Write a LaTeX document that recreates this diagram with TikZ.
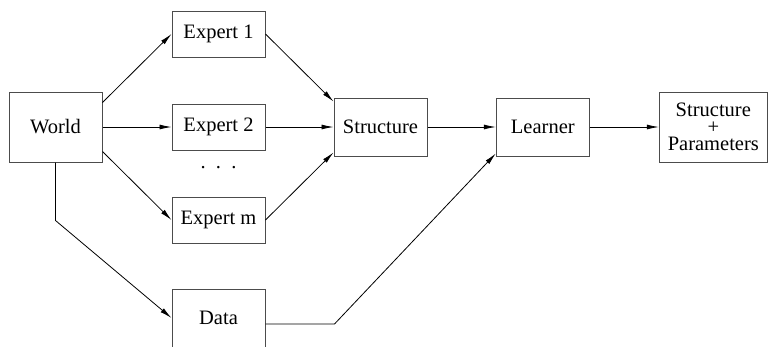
\documentclass[tikz,border=0pt]{standalone}
\usepackage{fontspec}
\setmainfont{Liberation Serif}
\newfontfamily\tms{Liberation Serif}
\usetikzlibrary{arrows.meta,calc}
\begin{document}
\begin{tikzpicture}[x=1pt,y=-1pt,
  box/.style={draw=black!70,line width=1pt,minimum width=93pt,inner sep=0pt,
    font=\tms\fontsize{20.5}{19}\selectfont,align=center},
  conn/.style={line width=0.8pt,-{Latex[length=12pt,width=5pt]}}]
\useasboundingbox (0,0) rectangle (768,346);
\node[box,minimum height=70pt] (w) at (55.5,127) {World};
\node[box,minimum height=46pt] (e1) at (218.5,34) {Expert 1};
\node[box,minimum height=46pt] (e2) at (218.5,127) {Expert 2};
\node[box,minimum height=46pt] (em) at (218.5,220) {Expert m};
\node[font=\tms\fontsize{20.5}{22}\selectfont] (dots) at (218.5,168) {.\,\,\,.\,\,\,.};
\node[box,minimum height=58pt] (d) at (218.5,318) {Data};
\node[box,minimum height=58pt] (s) at (380.5,127) {Structure};
\node[box,minimum height=58pt] (l) at (542.8,127) {Learner};
\node[box,minimum height=70pt,minimum width=108pt] (sp) at (713.3,127) {Structure\\[-2pt]+\\[-2pt]Parameters};
\draw[conn] ($(w.north east)+(0,11)$) -- (e1.west);
\draw[conn] (w.east) -- (e2.west);
\draw[conn] ($(w.south east)+(0,-11)$) -- (em.west);
\draw[conn] (w.south) -- ++(0,58) -- (d.west);
\draw[conn] (e1.east) -- ($(s.north west)+(0,4)$);
\draw[conn] (e2.east) -- (s.west);
\draw[conn] (em.east) -- ($(s.south west)+(0,-4)$);
\draw[conn] (s.east) -- (l.west);
\draw[conn] ($(d.east)+(0,6)$) -- ++(69,0) -- ($(l.south west)+(0,-3)$);
\draw[conn] (l.east) -- (sp.west);
\end{tikzpicture}
\end{document}
